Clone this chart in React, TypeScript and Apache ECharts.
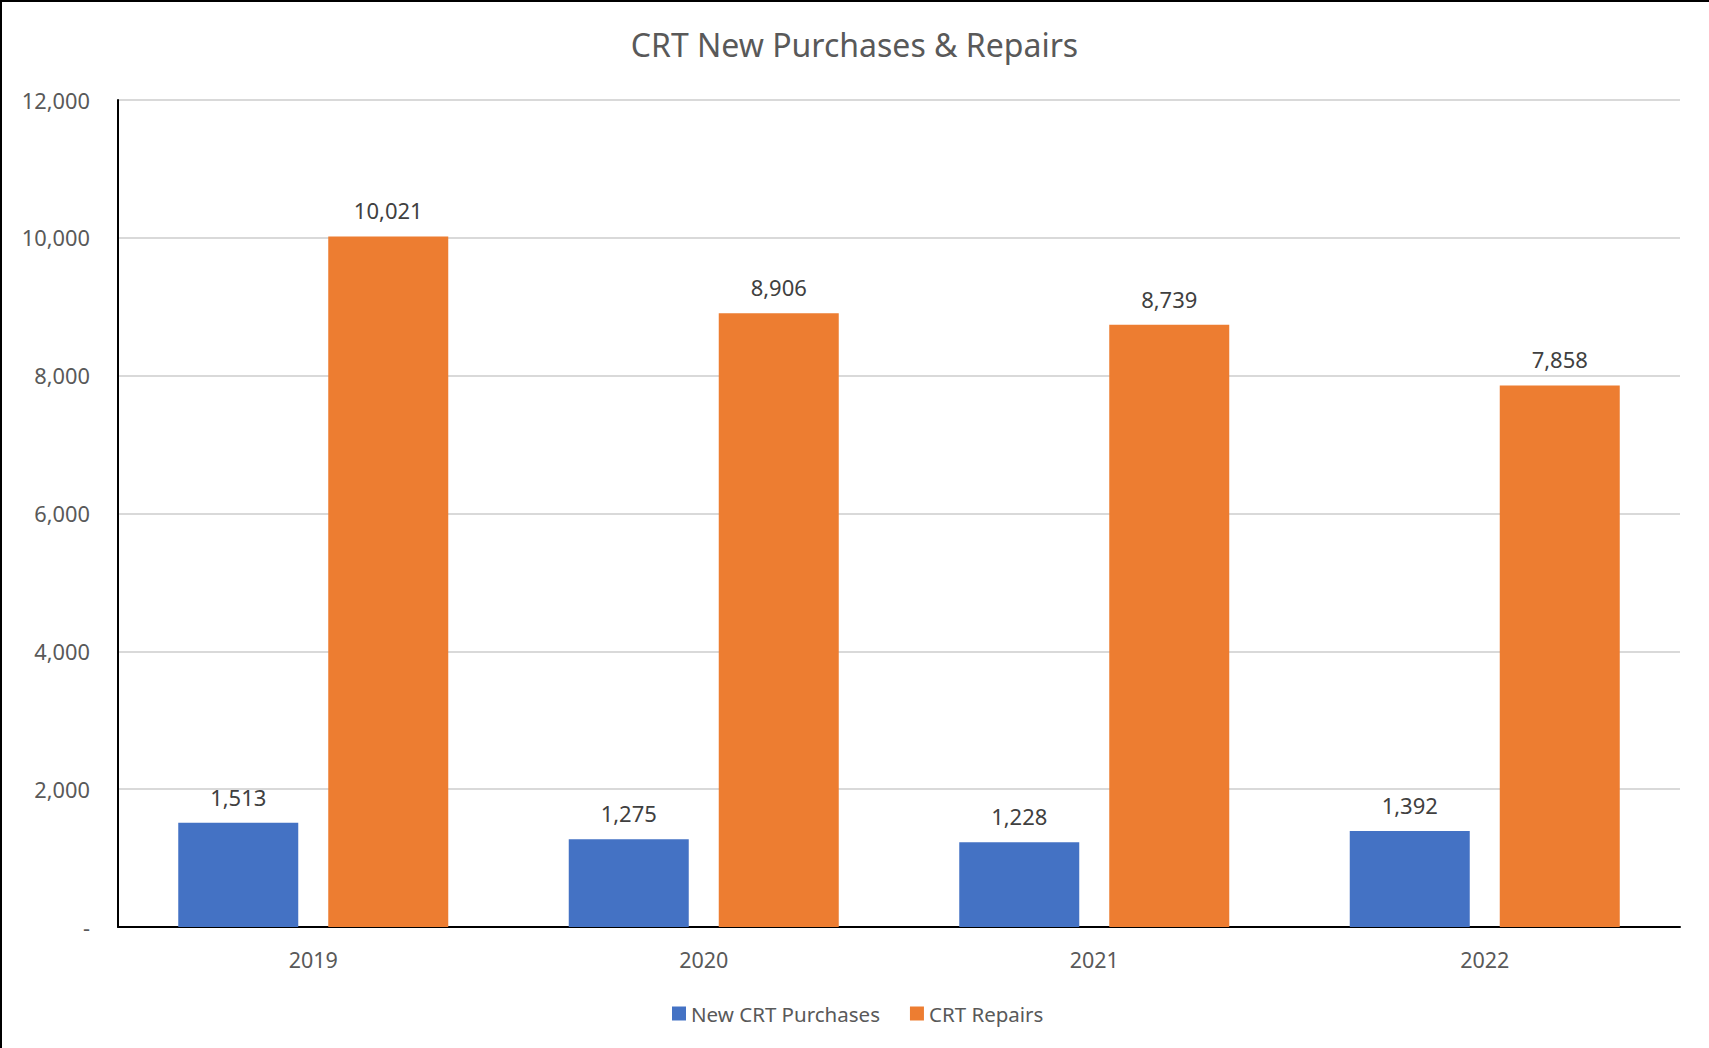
import React, { useEffect, useRef } from "react";
import * as echarts from "echarts";

const categories = ["2019", "2020", "2021", "2022"];
const newPurchases = [1513, 1275, 1228, 1392];
const repairs = [10021, 8906, 8739, 7858];
const seriesNames = ["New CRT Purchases", "CRT Repairs"];
const titleText = "CRT New Purchases & Repairs";

const FONT = "'Noto Sans', sans-serif";
const fmt = (v: number) => (v === 0 ? "-" : v.toLocaleString("en-US"));

export default function App() {
  const ref = useRef<HTMLDivElement>(null);
  useEffect(() => {
    document.body.style.margin = "0";
    const chart = echarts.init(ref.current!, null, { renderer: "svg" });
    const label = {
      show: true,
      position: "top",
      distance: 15,
      color: "#404040",
      fontSize: 22,
      fontFamily: FONT,
      formatter: (p: any) => fmt(p.value),
    };
    chart.setOption({
      animation: false,
      backgroundColor: "#fff",
      title: {
        text: titleText,
        left: "center",
        top: 23,
        textStyle: { color: "#595959", fontSize: 32, fontWeight: "normal", fontFamily: FONT },
      },
      legend: {
        data: seriesNames,
        left: 667,
        top: 998,
        itemWidth: 14,
        itemHeight: 14,
        itemGap: 30,
        icon: "rect",
        textStyle: { color: "#595959", fontSize: 20.5, fontFamily: FONT },
      },
      grid: { left: 118, right: 29, top: 100, bottom: 121 },
      xAxis: {
        type: "category",
        data: categories,
        axisLine: { lineStyle: { color: "#000", width: 2 } },
        axisTick: { show: false },
        axisLabel: { color: "#595959", fontSize: 21.5, fontFamily: FONT, margin: 21 },
      },
      yAxis: {
        type: "value",
        min: 0,
        max: 12000,
        interval: 2000,
        axisLine: { show: true, lineStyle: { color: "#000", width: 2 } },
        axisTick: { show: false },
        splitLine: { lineStyle: { color: "#D9D9D9", width: 2 } },
        axisLabel: {
          color: "#595959",
          fontSize: 21.8,
          fontFamily: FONT,
          margin: 28,
          formatter: (v: number) => fmt(v),
        },
      },
      series: [
        {
          name: seriesNames[0],
          type: "bar",
          data: newPurchases,
          barWidth: 120,
          barGap: "25%",
          itemStyle: { color: "#4472C4" },
          label,
        },
        {
          name: seriesNames[1],
          type: "bar",
          data: repairs,
          barWidth: 120,
          barGap: "25%",
          itemStyle: { color: "#ED7D31" },
          label,
        },
      ],
      graphic: [
        { type: "rect", shape: { x: 0, y: 0, width: 1709, height: 2 }, style: { fill: "#000" } },
        { type: "rect", shape: { x: 0, y: 0, width: 2, height: 1048 }, style: { fill: "#000" } },
      ],
    });
    return () => chart.dispose();
  }, []);
  return <div ref={ref} style={{ width: 1709, height: 1048 }} />;
}
